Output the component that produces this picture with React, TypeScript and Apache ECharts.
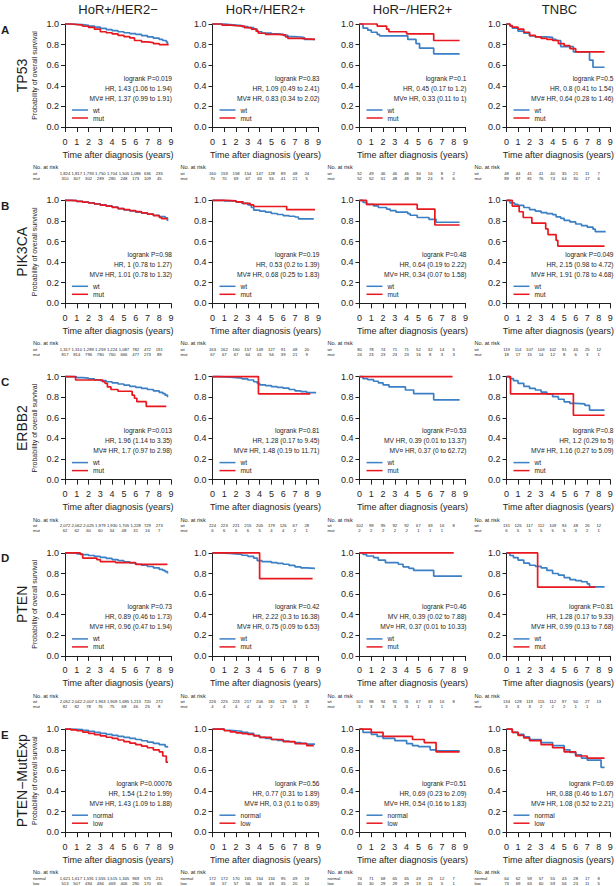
import React, { useEffect, useRef } from "react";
import * as echarts from "echarts";

// ---------- texts ----------
const columnTitles = ["HoR+/HER2−", "HoR+/HER2+", "HoR−/HER2+", "TNBC"];
const rowLetters = ["A", "B", "C", "D", "E"];
const geneNames = ["TP53", "PIK3CA", "ERBB2", "PTEN", "PTEN−MutExp"];
const groupNames = [
  ["wt", "mut"],
  ["wt", "mut"],
  ["wt", "mut"],
  ["wt", "mut"],
  ["normal", "low"],
];
const yTitle = "Probability of overall survival";
const xTitle = "Time after diagnosis (years)";
const riskTitle = "No. at risk";

// ---------- survival curves [years, probability] ----------
const a1Wt = [[0,1],[0.5,0.997],[1,0.993],[1.5,0.988],[2,0.98],[2.5,0.97],[3,0.958],[3.5,0.946],[4,0.935],[4.5,0.925],[5,0.915],[5.5,0.907],[6,0.9],[6.5,0.888],[7,0.875],[7.5,0.862],[8,0.85],[8.3,0.84],[8.6,0.826],[8.7,0.8],[8.75,0.8]];
const a1Mut = [[0,1],[0.5,0.995],[1,0.99],[1.5,0.978],[2,0.967],[2.5,0.95],[3,0.925],[3.5,0.915],[4,0.905],[4.5,0.89],[5,0.878],[5.5,0.865],[5.9,0.84],[6.5,0.826],[7,0.82],[7.5,0.81],[8,0.8],[8.8,0.8]];
const a2Wt = [[0,1],[1,0.995],[1.5,0.99],[2,0.985],[2.5,0.975],[3,0.965],[3.5,0.95],[3.8,0.925],[4.2,0.912],[5,0.905],[5.5,0.9],[6,0.89],[6.4,0.878],[7,0.874],[7.5,0.868],[7.8,0.85],[8.7,0.85]];
const a2Mut = [[0,1],[0.8,0.99],[1.5,0.985],[2,0.98],[2.7,0.965],[3.3,0.95],[3.7,0.93],[3.9,0.91],[4.5,0.9],[5.5,0.895],[6.2,0.875],[6.4,0.86],[7.5,0.855],[8,0.85],[8.7,0.85]];
const a3Wt = [[0,1],[0.3,0.96],[0.7,0.94],[1.0,0.92],[1.5,0.9],[1.7,0.885],[4.1,0.85],[4.8,0.81],[5.1,0.765],[6.3,0.71],[8.5,0.71]];
const a3Mut = [[0,1],[1.5,0.98],[2.3,0.95],[2.5,0.925],[4.0,0.905],[6.3,0.84],[8.5,0.84]];
const a4Wt = [[0,1],[0.3,0.98],[0.5,0.96],[1,0.93],[1.5,0.91],[2,0.885],[2.5,0.875],[3.5,0.87],[4,0.85],[4.3,0.84],[4.7,0.78],[5.8,0.73],[7.2,0.65],[7.5,0.58],[8.5,0.58]];
const a4Mut = [[0,1],[0.3,0.985],[0.5,0.97],[1,0.95],[1.5,0.92],[2,0.89],[2.5,0.875],[3,0.86],[3.5,0.85],[4,0.84],[4.5,0.81],[5,0.79],[5.5,0.76],[6,0.73],[8.5,0.73]];

const b1Wt = [[0,1],[0.5,0.997],[1,0.99],[1.5,0.983],[2,0.975],[2.5,0.965],[3,0.955],[3.5,0.945],[4,0.935],[4.5,0.92],[5,0.907],[5.5,0.896],[6,0.886],[6.5,0.876],[7,0.866],[7.5,0.855],[8,0.842],[8.5,0.83],[8.7,0.8],[8.75,0.8]];
const b1Mut = [[0,1],[0.5,0.997],[1,0.99],[1.5,0.982],[2,0.974],[2.5,0.964],[3,0.953],[3.5,0.943],[4,0.932],[4.5,0.92],[5,0.91],[5.5,0.9],[6,0.89],[6.5,0.878],[7,0.866],[7.5,0.852],[8,0.835],[8.2,0.822],[8.7,0.822]];
const b2Wt = [[0,1],[1,0.993],[2,0.983],[2.5,0.97],[3,0.955],[3.3,0.93],[3.5,0.905],[4,0.895],[4.5,0.885],[5,0.872],[5.5,0.862],[6,0.852],[6.5,0.845],[7,0.838],[7.3,0.82],[8.6,0.82]];
const b2Mut = [[0,1],[1.2,0.995],[2,0.985],[2.6,0.97],[3.2,0.955],[3.5,0.94],[6.3,0.91],[8.7,0.91]];
const b3Wt = [[0,1],[0.3,0.98],[0.6,0.96],[1.2,0.945],[1.6,0.93],[2.3,0.915],[2.6,0.9],[3.1,0.885],[4.1,0.87],[4.3,0.855],[4.9,0.833],[5.9,0.815],[6.5,0.787],[8.5,0.787]];
const b3Mut = [[0,1],[0.6,0.96],[4.9,0.915],[6.4,0.76],[8.5,0.76]];
const b4Wt = [[0,1],[0.3,0.975],[0.7,0.96],[1,0.95],[1.5,0.93],[2,0.91],[2.5,0.895],[3,0.88],[3.5,0.87],[4,0.86],[4.3,0.84],[4.7,0.825],[5,0.805],[5.5,0.79],[6,0.77],[6.5,0.755],[7,0.74],[7.5,0.72],[7.7,0.695],[8.6,0.695]];
const b4Mut = [[0,1],[0.5,0.944],[1.1,0.889],[1.45,0.833],[2.2,0.778],[3.4,0.722],[3.6,0.667],[4.3,0.611],[4.45,0.556],[8.5,0.556]];

const c1Wt = [[0,1],[0.5,0.997],[1,0.99],[1.5,0.985],[2,0.977],[2.5,0.968],[3,0.96],[3.5,0.95],[4,0.94],[4.5,0.928],[5,0.917],[5.5,0.906],[6,0.896],[6.5,0.885],[7,0.875],[7.5,0.862],[8,0.847],[8.3,0.835],[8.5,0.82],[8.7,0.8],[8.75,0.8]];
const c1Mut = [[0,1],[0.9,0.967],[3.2,0.95],[3.4,0.935],[3.6,0.9],[3.9,0.875],[4.5,0.858],[5.7,0.82],[5.9,0.79],[6.1,0.757],[6.9,0.71],[8.6,0.71]];
const c2Wt = [[0,1],[0.5,0.998],[1,0.995],[1.5,0.99],[2,0.985],[2.5,0.978],[3,0.967],[3.5,0.95],[3.8,0.935],[4,0.92],[4.5,0.912],[5,0.902],[5.5,0.895],[6,0.888],[6.5,0.875],[7,0.862],[7.5,0.855],[8,0.845],[8.8,0.845]];
const c2Mut = [[0,1],[3.9,0.833],[8.3,0.833]];
const c3Wt = [[0,1],[0.3,0.98],[0.7,0.97],[1.2,0.955],[1.6,0.94],[2,0.92],[2.5,0.9],[3.9,0.87],[4.6,0.835],[6.3,0.775],[8.5,0.775]];
const c3Mut = [[0,1],[7.9,1]];
const c4Wt = [[0,1],[0.3,0.98],[0.6,0.96],[1,0.935],[1.5,0.905],[2,0.885],[2.5,0.87],[3,0.85],[3.5,0.83],[4,0.805],[4.5,0.78],[5,0.755],[5.5,0.74],[6,0.735],[6.8,0.72],[7.2,0.675],[8.5,0.675]];
const c4Mut = [[0,1],[0.35,0.833],[5.8,0.625],[8.5,0.625]];

const d1Wt = [[0,1],[0.5,0.997],[1,0.99],[1.5,0.983],[2,0.975],[2.5,0.966],[3,0.956],[3.5,0.946],[4,0.935],[4.5,0.925],[5,0.913],[5.5,0.902],[6,0.89],[6.5,0.88],[7,0.868],[7.5,0.855],[8,0.84],[8.3,0.83],[8.5,0.818],[8.7,0.8],[8.75,0.8]];
const d1Mut = [[0,1],[1.3,0.985],[1.5,0.95],[2.7,0.935],[3,0.915],[4.3,0.905],[6,0.888],[8.7,0.888]];
const d2Wt = [[0,1],[0.5,0.998],[1,0.995],[1.5,0.99],[2,0.985],[2.5,0.977],[3,0.967],[3.5,0.95],[3.8,0.925],[4.2,0.915],[5,0.905],[5.5,0.898],[6,0.89],[6.5,0.878],[7,0.865],[7.5,0.855],[8,0.85],[8.7,0.85]];
const d2Mut = [[0,1],[4,0.75],[8.5,0.75]];
const d3Wt = [[0,1],[0.3,0.985],[0.6,0.97],[1.2,0.955],[1.6,0.93],[2.2,0.905],[3.3,0.89],[3.7,0.865],[4.2,0.85],[4.6,0.83],[6.3,0.775],[8.7,0.775]];
const d3Mut = [[0,1],[8,1]];
const d4Wt = [[0,1],[0.3,0.975],[0.6,0.955],[1,0.93],[1.5,0.9],[2,0.88],[2.5,0.87],[3,0.855],[3.5,0.83],[4,0.8],[4.5,0.785],[5,0.76],[5.5,0.74],[6,0.73],[6.5,0.72],[7,0.7],[7.2,0.67],[8.5,0.67]];
const d4Mut = [[0,1],[2.7,0.667],[7.7,0.667]];

const e1Normal = [[0,1],[0.5,0.998],[1,0.995],[1.5,0.988],[2,0.98],[2.5,0.97],[3,0.96],[3.5,0.95],[4,0.94],[4.5,0.93],[5,0.92],[5.5,0.91],[6,0.9],[6.5,0.888],[7,0.875],[7.5,0.862],[8,0.85],[8.5,0.83],[8.7,0.82],[8.75,0.82]];
const e1Low = [[0,1],[0.5,0.993],[1,0.985],[1.5,0.972],[2,0.96],[2.5,0.948],[3,0.935],[3.5,0.922],[4,0.91],[4.5,0.895],[5,0.88],[5.5,0.865],[6,0.85],[6.5,0.835],[7,0.82],[7.5,0.8],[8,0.78],[8.3,0.74],[8.6,0.68],[8.75,0.68]];
const e2Normal = [[0,1],[1,0.99],[1.5,0.985],[2,0.98],[2.5,0.97],[3,0.96],[3.5,0.94],[4,0.92],[4.5,0.91],[5,0.9],[5.5,0.892],[6,0.885],[6.5,0.878],[7,0.87],[7.5,0.862],[8,0.855],[8.7,0.85]];
const e2Low = [[0,1],[1,0.985],[1.5,0.975],[2,0.965],[2.5,0.958],[3,0.95],[3.5,0.935],[4,0.92],[5,0.9],[6,0.88],[7,0.86],[8,0.84],[8.6,0.84]];
const e3Normal = [[0,1],[0.3,0.97],[1,0.95],[1.5,0.93],[2,0.91],[3,0.89],[4,0.86],[4.5,0.84],[5,0.83],[6,0.8],[6.5,0.79],[8.5,0.79]];
const e3Low = [[0,1],[1,0.97],[2,0.93],[4.5,0.9],[5.5,0.87],[6.5,0.78],[8.5,0.78]];
const e4Normal = [[0,1],[0.5,0.97],[1,0.95],[1.5,0.925],[2,0.9],[3,0.87],[4,0.84],[5,0.8],[5.5,0.775],[6,0.75],[6.5,0.72],[7,0.7],[8.2,0.63],[8.5,0.63]];
const e4Low = [[0,1],[0.5,0.97],[1,0.94],[1.5,0.915],[2,0.89],[3,0.85],[4,0.82],[5,0.78],[6,0.74],[7,0.72],[8.5,0.72]];

const curves = [
  [[a1Wt, a1Mut], [a2Wt, a2Mut], [a3Wt, a3Mut], [a4Wt, a4Mut]],
  [[b1Wt, b1Mut], [b2Wt, b2Mut], [b3Wt, b3Mut], [b4Wt, b4Mut]],
  [[c1Wt, c1Mut], [c2Wt, c2Mut], [c3Wt, c3Mut], [c4Wt, c4Mut]],
  [[d1Wt, d1Mut], [d2Wt, d2Mut], [d3Wt, d3Mut], [d4Wt, d4Mut]],
  [[e1Normal, e1Low], [e2Normal, e2Low], [e3Normal, e3Low], [e4Normal, e4Low]],
];

// ---------- statistics ----------
const stats = [
  [
    ["logrank P=0.019", "HR, 1.43 (1.06 to 1.94)", "MV# HR, 1.37 (0.99 to 1.91)"],
    ["logrank P=0.83", "HR, 1.09 (0.49 to 2.41)", "MV# HR, 0.83 (0.34 to 2.02)"],
    ["logrank P=0.1", "HR, 0.45 (0.17 to 1.2)", "MV¤ HR, 0.33 (0.11 to 1)"],
    ["logrank P=0.5", "HR, 0.8 (0.41 to 1.54)", "MV# HR, 0.64 (0.28 to 1.46)"],
  ],
  [
    ["logrank P=0.98", "HR, 1 (0.78 to 1.27)", "MV# HR, 1.01 (0.78 to 1.32)"],
    ["logrank P=0.19", "HR, 0.53 (0.2 to 1.39)", "MV# HR, 0.68 (0.25 to 1.83)"],
    ["logrank P=0.48", "HR, 0.64 (0.19 to 2.22)", "MV¤ HR, 0.34 (0.07 to 1.58)"],
    ["logrank P=0.049", "HR, 2.15 (0.98 to 4.72)", "MV# HR, 1.91 (0.78 to 4.68)"],
  ],
  [
    ["logrank P=0.013", "HR, 1.96 (1.14 to 3.35)", "MV# HR, 1.7 (0.97 to 2.98)"],
    ["logrank P=0.81", "HR, 1.28 (0.17 to 9.45)", "MV# HR, 1.48 (0.19 to 11.71)"],
    ["logrank P=0.53", "MV HR, 0.39 (0.01 to 13.37)", "MV¤ HR, 0.37 (0 to 62.72)"],
    ["logrank P=0.8", "HR, 1.2 (0.29 to 5)", "MV# HR, 1.16 (0.27 to 5.09)"],
  ],
  [
    ["logrank P=0.73", "HR, 0.89 (0.46 to 1.73)", "MV# HR, 0.96 (0.47 to 1.94)"],
    ["logrank P=0.42", "HR, 2.22 (0.3 to 16.38)", "MV# HR, 0.75 (0.09 to 6.53)"],
    ["logrank P=0.46", "MV HR, 0.39 (0.02 to 7.88)", "MV¤ HR, 0.37 (0.01 to 10.33)"],
    ["logrank P=0.81", "HR, 1.28 (0.17 to 9.33)", "MV# HR, 0.99 (0.13 to 7.68)"],
  ],
  [
    ["logrank P=0.00076", "HR, 1.54 (1.2 to 1.99)", "MV# HR, 1.43 (1.09 to 1.88)"],
    ["logrank P=0.56", "HR, 0.77 (0.31 to 1.89)", "MV# HR, 0.3 (0.1 to 0.89)"],
    ["logrank P=0.51", "HR, 0.69 (0.23 to 2.09)", "MV¤ HR, 0.54 (0.16 to 1.83)"],
    ["logrank P=0.69", "HR, 0.88 (0.46 to 1.67)", "MV# HR, 1.08 (0.52 to 2.21)"],
  ],
];

// ---------- numbers at risk (years 0..8) ----------
const riskA = [
  [["1,824","1,817","1,793","1,750","1,704","1,505","1,086","636","235"], ["310","307","302","289","280","248","173","109","45"]],
  [["160","159","158","154","147","128","89","48","24"], ["70","70","69","67","63","55","41","21","5"]],
  [["52","49","46","46","46","30","16","8","2"], ["52","52","51","48","48","38","24","9","6"]],
  [["48","44","41","41","40","35","21","11","7"], ["89","87","81","76","74","64","30","17","6"]],
];
const riskB = [
  [["1,317","1,310","1,289","1,259","1,224","1,087","782","472","191"], ["817","814","796","780","760","666","477","273","89"]],
  [["163","162","160","157","149","127","91","48","20"], ["67","67","67","64","61","56","39","21","9"]],
  [["80","78","74","71","71","52","32","14","5"], ["24","23","23","23","23","16","8","3","3"]],
  [["119","114","107","103","102","91","45","25","12"], ["18","17","15","14","12","8","6","3","1"]],
];
const riskC = [
  [["2,072","2,062","2,025","1,979","1,930","1,705","1,228","729","273"], ["62","62","60","60","54","48","31","16","7"]],
  [["224","223","221","215","205","179","126","67","28"], ["6","6","6","6","5","4","4","2","1"]],
  [["102","99","95","92","92","67","39","16","8"], ["2","2","2","2","2","1","1","1"]],
  [["131","126","117","112","109","94","48","26","12"], ["6","5","5","5","5","5","3","2","1"]],
];
const riskD = [
  [["2,052","2,042","2,007","1,963","1,909","1,685","1,213","720","272"], ["82","82","78","76","75","68","46","25","8"]],
  [["226","225","223","217","206","181","129","68","28"], ["4","4","4","4","4","2","1","1","1"]],
  [["101","98","94","91","91","67","39","16","8"], ["3","3","3","3","3","1","1","1"]],
  [["134","128","119","115","112","97","50","27","13"], ["3","3","3","2","2","2","1","1"]],
];
const riskE = [
  [["1,621","1,617","1,591","1,555","1,515","1,345","969","575","215"], ["513","507","494","484","469","406","290","170","65"]],
  [["172","172","170","165","154","134","95","49","19"], ["58","57","57","56","56","49","35","20","10"]],
  [["74","71","68","65","65","49","29","12","7"], ["30","30","29","29","29","19","11","5","1"]],
  [["64","62","59","57","55","43","28","17","8"], ["73","69","63","60","59","56","23","11","5"]],
];
const risk = [riskA, riskB, riskC, riskD, riskE];

// ---------- layout / style ----------
const BLUE = "#3b7fc4";
const RED = "#e8181e";
const INK = "#1e1e1e";
const FONT = "'Liberation Sans', Arial, Helvetica, sans-serif";
const colLefts = [65, 212.5, 359.5, 506.5];
const rowTops = [24, 200.3, 376.6, 552.9, 729.2];
const PW = 106;
const PH = 103;

function txt(x: number, y: number, text: string, size: number, extra: any = {}, props: any = {}) {
  return {
    type: "text",
    x,
    y,
    silent: true,
    ...props,
    style: {
      text,
      fontSize: size,
      fontFamily: FONT,
      fill: INK,
      align: "left",
      verticalAlign: "middle",
      ...extra,
    },
  };
}

export default function App() {
  const ref = useRef<HTMLDivElement>(null);

  useEffect(() => {
    if (!ref.current) return;
    const chart = echarts.init(ref.current, undefined, { renderer: "svg" });
    const grids: any[] = [];
    const xAxes: any[] = [];
    const yAxes: any[] = [];
    const series: any[] = [];

    for (let r = 0; r < 5; r++) {
      for (let c = 0; c < 4; c++) {
        const idx = r * 4 + c;
        grids.push({ left: colLefts[c], top: rowTops[r], width: PW, height: PH, containLabel: false });
        xAxes.push({
          gridIndex: idx,
          type: "value",
          min: 0,
          max: 9,
          interval: 1,
          axisLine: { show: true, onZero: false, lineStyle: { color: INK, width: 1 } },
          axisTick: { show: true, length: 5, lineStyle: { color: INK, width: 1 } },
          axisLabel: { fontSize: 9, color: INK, margin: 10, fontFamily: FONT },
          splitLine: { show: false },
          name: xTitle,
          nameLocation: "middle",
          nameGap: 23,
          nameTextStyle: { fontSize: 9, color: INK, fontFamily: FONT },
        });
        yAxes.push({
          gridIndex: idx,
          type: "value",
          min: 0,
          max: 1,
          interval: 0.2,
          axisLine: { show: true, lineStyle: { color: INK, width: 1 } },
          axisTick: { show: true, length: 4, lineStyle: { color: INK, width: 1 } },
          axisLabel: {
            fontSize: 9,
            color: INK,
            margin: 6,
            fontFamily: FONT,
            formatter: (v: number) => v.toFixed(1),
          },
          splitLine: { show: false },
        });
        const [g1, g2] = curves[r][c];
        series.push({
          type: "line",
          name: groupNames[r][0],
          step: "end",
          xAxisIndex: idx,
          yAxisIndex: idx,
          data: g1,
          showSymbol: false,
          clip: false,
          z: 2,
          lineStyle: { color: BLUE, width: 1.7 },
          itemStyle: { color: BLUE },
        });
        series.push({
          type: "line",
          name: groupNames[r][1],
          step: "end",
          xAxisIndex: idx,
          yAxisIndex: idx,
          data: g2,
          showSymbol: false,
          clip: false,
          z: 3,
          lineStyle: { color: RED, width: 1.7 },
          itemStyle: { color: RED },
        });
      }
    }

    chart.setOption({
      animation: false,
      backgroundColor: "#ffffff",
      grid: grids,
      xAxis: xAxes,
      yAxis: yAxes,
      series,
    });

    const graphic: any[] = [];
    for (let c = 0; c < 4; c++) {
      graphic.push(txt(colLefts[c] + PW / 2, 9.5, columnTitles[c], 13, { align: "center" }));
    }
    for (let r = 0; r < 5; r++) {
      const T = rowTops[r];
      graphic.push(txt(1, T + 5.5, rowLetters[r], 11.5, { fontWeight: "bold" }));
      graphic.push(
        txt(22, T + PH / 2, geneNames[r], 14, { align: "center" }, { rotation: Math.PI / 2 })
      );
      graphic.push(
        txt(34.5, T + PH / 2, yTitle, 7, { align: "center" }, { rotation: Math.PI / 2 })
      );
      for (let c = 0; c < 4; c++) {
        const idx = r * 4 + c;
        const L = colLefts[c];
        const [s1, s2, s3] = stats[r][c];
        const xr = L + PW + 1;
        graphic.push(txt(xr, T + 54, s1, 6.6, { align: "right" }));
        graphic.push(txt(xr, T + 64, s2, 6.6, { align: "right" }));
        graphic.push(txt(xr, T + 74, s3, 6.6, { align: "right" }));
        // legend
        graphic.push({
          type: "line",
          silent: true,
          shape: { x1: L + 7, y1: T + 86, x2: L + 23, y2: T + 86 },
          style: { stroke: BLUE, lineWidth: 1.5 },
        });
        graphic.push({
          type: "line",
          silent: true,
          shape: { x1: L + 7, y1: T + 94, x2: L + 23, y2: T + 94 },
          style: { stroke: RED, lineWidth: 1.5 },
        });
        graphic.push(txt(L + 28, T + 86, groupNames[r][0], 6.6));
        graphic.push(txt(L + 28, T + 94, groupNames[r][1], 6.6));
        // risk table
        const base = T + PH;
        graphic.push(txt(L - 32, base + 40, riskTitle, 5.6));
        graphic.push(txt(L - 32, base + 46, groupNames[r][0], 4.2));
        graphic.push(txt(L - 32, base + 51, groupNames[r][1], 4.2));
        const [rw, rm] = risk[r][c];
        rw.forEach((v, i) => {
          const px = chart.convertToPixel({ xAxisIndex: idx } as any, i) as number;
          graphic.push(txt(px, base + 46, v, 4.2, { align: "center" }));
        });
        rm.forEach((v, i) => {
          const px = chart.convertToPixel({ xAxisIndex: idx } as any, i) as number;
          graphic.push(txt(px, base + 51, v, 4.2, { align: "center" }));
        });
      }
    }
    chart.setOption({ graphic });

    return () => chart.dispose();
  }, []);

  return (
    <div
      ref={ref}
      style={{ position: "absolute", left: 0, top: 0, width: 616, height: 886, background: "#fff" }}
    />
  );
}
